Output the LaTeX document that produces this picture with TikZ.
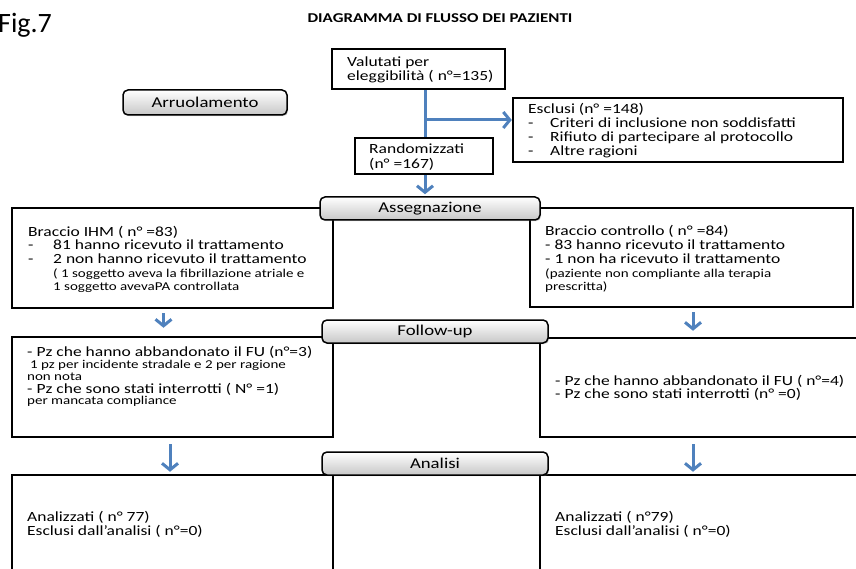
\documentclass[tikz,border=0pt]{standalone}
\usepackage{fontspec}
\setmainfont{Carlito}[FakeStretch=1.25]
\newfontfamily\figfont{Carlito}
\usetikzlibrary{arrows.meta,calc,shadows}
\definecolor{flowblue}{RGB}{79,129,189}
\begin{document}
\begin{tikzpicture}[x=1pt,y=-1pt,
  box/.style={draw=black, line width=2.5pt, fill=white, inner sep=0pt},
  stage/.style={draw=black, line width=1.5pt, rounded corners=5pt, inner sep=0pt,
    top color=white, bottom color=black!22,
    drop shadow={opacity=0.35, shadow xshift=1.2pt, shadow yshift=-1.2pt},
    font=\fontsize{15}{17}\selectfont},
  ln/.style={anchor=west, inner sep=0pt, font=\fontsize{14}{16}\selectfont,
    text height=9pt, text depth=2.5pt},
  sm/.style={anchor=west, inner sep=0pt, font=\fontsize{12}{14}\selectfont,
    text height=7.5pt, text depth=2pt},
  flow/.style={draw=flowblue, line width=3pt},
  flowarr/.style={flow, -{Straight Barb[length=6.5pt,width=16pt]}}]
\useasboundingbox (0,0) rectangle (856,569);
\begin{scope}
\clip (0,0) rectangle (856,569);

% titles
\node[anchor=west, inner sep=0pt, font=\figfont\fontsize{28}{30}\selectfont] (fig) at (-2,25) {Fig.7};
\node[inner sep=0pt, font=\bfseries\fontsize{13.5}{15}\selectfont] (title) at (440,18) {DIAGRAMMA DI FLUSSO DEI PAZIENTI};

% boxes
\node[box, minimum width=173, minimum height=40] (val) at (418.5,69) {};
\node[box, minimum width=330, minimum height=64] (escl) at (678,130) {};
\node[box, minimum width=138, minimum height=36] (rand) at (424,156) {};
\node[box, minimum width=321, minimum height=100] (ihm) at (172.5,258) {};
\node[box, minimum width=323, minimum height=99] (ctl) at (691.5,257.5) {};
\node[box, minimum width=321, minimum height=100] (ful) at (172.5,387) {};
\node[box, minimum width=340, minimum height=99] (fur) at (710,387.5) {};
\node[box, minimum width=321, minimum height=125] (anl) at (172.5,537.5) {};
\node[box, minimum width=340, minimum height=125] (anr) at (710,537.5) {};

% stage labels
\node[stage, minimum width=164, minimum height=25] (arr) at (205,102.5) {Arruolamento};
\node[stage, minimum width=220, minimum height=23] (ass) at (430,208.5) {Assegnazione};
\node[stage, minimum width=226, minimum height=23] (fup) at (435,331.5) {Follow-up};
\node[stage, minimum width=226, minimum height=23] (ana) at (435,463.5) {Analisi};

% texts
\node[ln] (t1) at (347,63) {Valutati per};
\node[ln] (t2) at (347,77) {eleggibilità ( n°=135)};

\node[ln] (e1) at (528,110) {Esclusi (n° =148)};
\node[ln] (e2) at (528,124) {\makebox[22pt][l]{-}Criteri di inclusione non soddisfatti};
\node[ln] (e3) at (528,138) {\makebox[22pt][l]{-}Rifiuto di partecipare al protocollo};
\node[ln] (e4) at (528,152) {\makebox[22pt][l]{-}Altre ragioni};

\node[ln] (r1) at (369,150) {Randomizzati};
\node[ln] (r2) at (369,165) {(n° =167)};

\node[ln] (i1) at (28,233) {Braccio IHM ( n° =83)};
\node[ln] (i2) at (28,246) {\makebox[25pt][l]{-}81 hanno ricevuto il trattamento};
\node[ln] (i3) at (28,260) {\makebox[25pt][l]{-}2 non hanno ricevuto il trattamento};
\node[sm] (i4) at (53,275) {( 1 soggetto aveva la fibrillazione atriale e};
\node[sm] (i5) at (53,288) {1 soggetto avevaPA controllata};

\node[ln] (c1) at (545,232) {Braccio controllo ( n° =84)};
\node[ln] (c2) at (545,246) {- 83 hanno ricevuto il trattamento};
\node[ln] (c3) at (545,260) {- 1 non ha ricevuto il trattamento};
\node[sm] (c4) at (545,275) {(paziente non compliante alla terapia};
\node[sm] (c5) at (545,288) {prescritta)};

\node[ln] (f1) at (27,353) {- Pz che hanno abbandonato il FU (n°=3)};
\node[sm] (f2) at (30,366) {1 pz per incidente stradale e 2 per ragione};
\node[sm] (f3) at (27,378) {non nota};
\node[ln] (f4) at (27,390) {- Pz che sono stati interrotti ( N° =1)};
\node[sm] (f5) at (27,401.5) {per mancata compliance};

\node[ln] (g1) at (555,382) {- Pz che hanno abbandonato il FU ( n°=4)};
\node[ln] (g2) at (555,395.5) {- Pz che sono stati interrotti (n° =0)};

\node[ln] (a1) at (27,518.5) {Analizzati ( n° 77)};
\node[ln] (a2) at (27,532.5) {Esclusi dall’analisi ( n°=0)};
\node[ln] (b1) at (555,518.5) {Analizzati ( n°79)};
\node[ln] (b2) at (555,532.5) {Esclusi dall’analisi ( n°=0)};

% connectors
\coordinate (br) at (425,120);
\draw[flow] (val.south -| br) -- (rand.north -| br);
\draw[flowarr] (br) -- (br -| escl.west);
\draw[flowarr] (rand.south -| br) -- ($(ass.north -| br)+(0,-2)$);

\draw[flowarr] ($(ihm.south)+(-9,4)$) -- ($(ful.north)+(-9,-8)$);
\draw[flowarr] ($(ctl.south)+(1.5,4)$) -- ($(fur.north -| ctl.south)+(1.5,-6)$);
\draw[flowarr] ($(ful.south)+(-2.5,6)$) -- ($(anl.north)+(-2.5,-2)$);
\draw[flowarr] ($(fur.south -| ctl.south)+(1.5,6)$) -- ($(anr.north -| ctl.south)+(1.5,-2)$);
\end{scope}
\end{tikzpicture}
\end{document}
